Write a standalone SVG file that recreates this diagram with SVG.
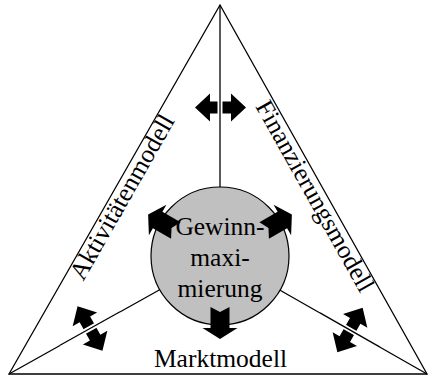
<svg xmlns="http://www.w3.org/2000/svg" width="428" height="376" viewBox="0 0 428 376">
<defs>
<style>
.ln{stroke:#000;stroke-width:1.3;fill:none}
.halo{stroke:#fff;stroke-width:5;fill:none}
.t{font-family:"Liberation Serif","Times New Roman",serif;font-size:25.5px;fill:#000;text-anchor:middle}
.ar{fill:#000;stroke:none}
</style>
<polygon id="dbl" points="-25.5,0 -10.5,-14 -10.5,-6 10.5,-6 10.5,-14 25.5,0 10.5,14 10.5,6 -10.5,6 -10.5,14"/>
<polygon id="sgl" points="-9.5,51 0,56 9.5,51 9.5,72 17.5,72 0,83 -17.5,72 -9.5,72"/>
</defs>
<rect width="428" height="376" fill="#fff"/>
<g id="triangle">
<polygon points="220,5 9,374 427,374" class="ln" stroke-width="1.5"/>
</g>
<g id="connectors">
<line x1="220" y1="5" x2="220" y2="256" class="ln"/>
<line x1="220" y1="256" x2="9" y2="374" class="ln"/>
<line x1="220" y1="256" x2="427" y2="374" class="ln"/>
</g>
<g id="arrows">
<use href="#dbl" class="ar" transform="translate(220.5,107.5)"/>
<use href="#dbl" class="ar" transform="translate(90,328.5) rotate(60.8)"/>
<use href="#dbl" class="ar" transform="translate(350,330) rotate(-60.3)"/>
<line x1="220" y1="90" x2="220" y2="125" class="halo"/>
<line x1="220" y1="90" x2="220" y2="125" class="ln"/>
<line x1="120" y1="311.7" x2="60" y2="345.3" class="halo"/>
<line x1="120" y1="311.7" x2="60" y2="345.3" class="ln"/>
<line x1="320" y1="312.9" x2="380" y2="347.1" class="halo"/>
<line x1="320" y1="312.9" x2="380" y2="347.1" class="ln"/>
</g>
<g id="center">
<circle cx="220" cy="256" r="69" fill="#c0c0c0" stroke="#000" stroke-width="1.2"/>
<use href="#sgl" class="ar" transform="translate(220,256)"/>
<use href="#sgl" class="ar" transform="translate(220,256) rotate(120)"/>
<use href="#sgl" class="ar" transform="translate(220,256) rotate(-120)"/>
<text class="t" x="220" y="234.5">Gewinn-</text>
<text class="t" x="220" y="266">maxi-</text>
<text class="t" x="220" y="297">mierung</text>
</g>
<g id="markt">
<text class="t" x="220.5" y="366.5">Marktmodell</text>
</g>
<g id="aktivitaet">
<text class="t" transform="translate(129.3,201.1) rotate(-60.3)">Aktivitätenmodell</text>
</g>
<g id="finanz">
<text class="t" transform="translate(307.7,200.0) rotate(60.7)">Finanzierungsmodell</text>
</g>
</svg>
